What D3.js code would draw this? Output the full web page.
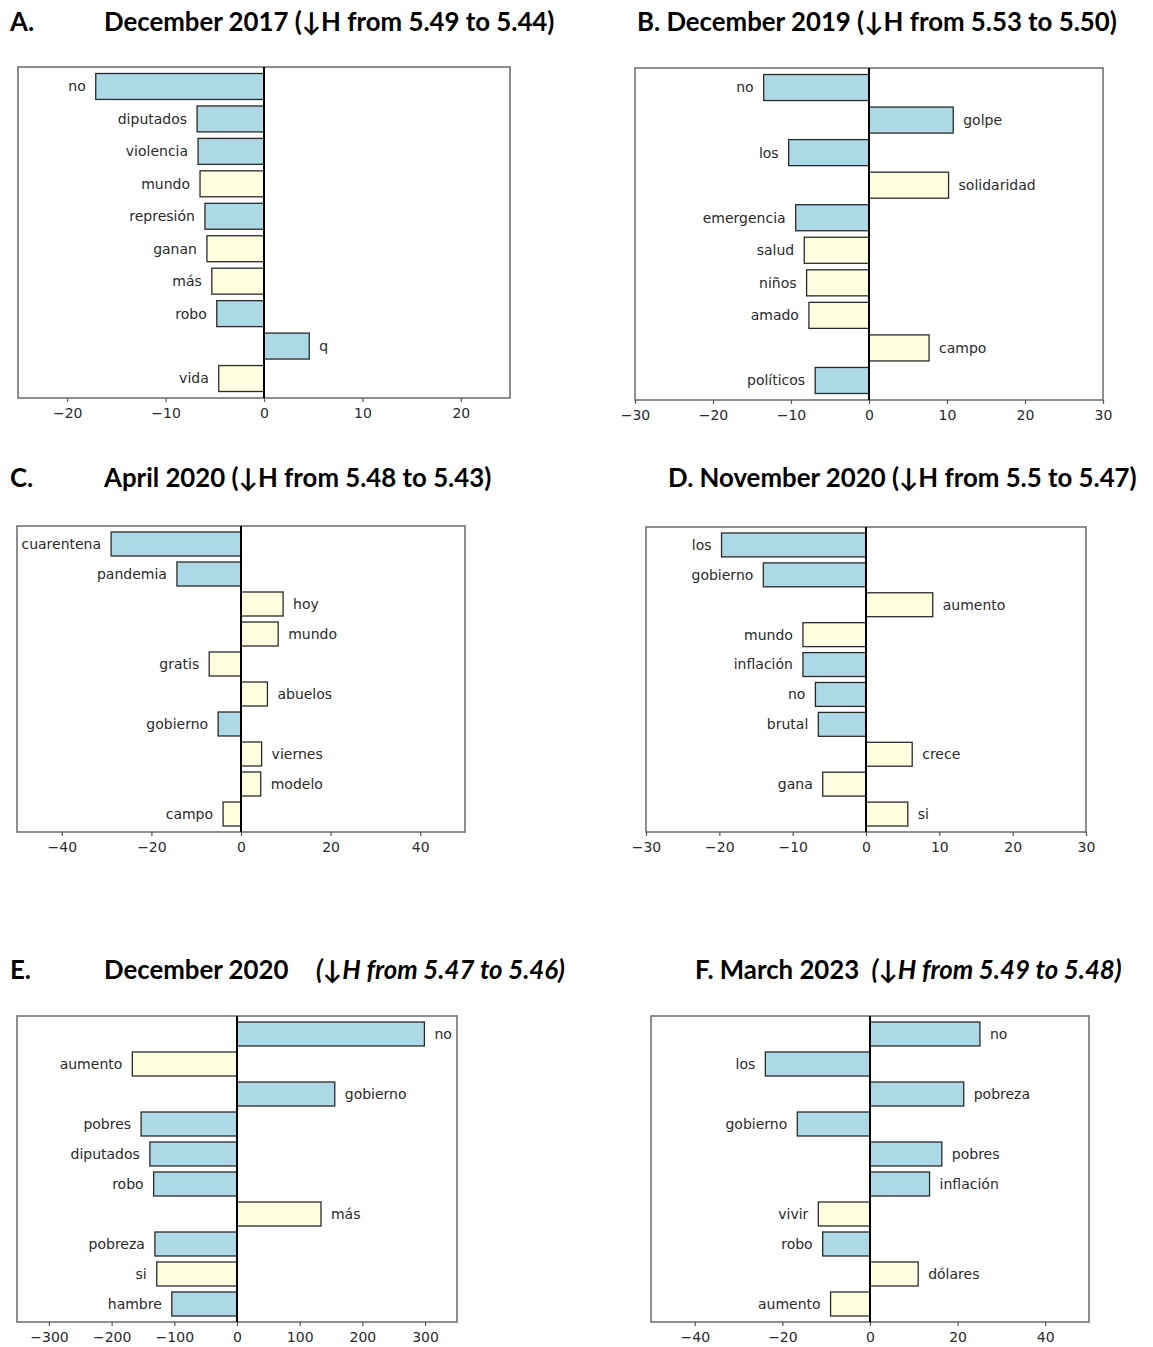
<!DOCTYPE html>
<html>
<head>
<meta charset="utf-8">
<script src="https://cdn.jsdelivr.net/npm/d3@7"></script>
<style>
  body { margin: 0; background: #fff; }
  svg { display: block; }
</style>
</head>
<body>
<svg id="chart" width="1153" height="1347"></svg>
<script>
// ---------- DATA ----------
const wordsA  = ["no","diputados","violencia","mundo","represión","ganan","más","robo","q","vida"];
const valuesA = [-17.1,-6.8,-6.7,-6.5,-6.0,-5.8,-5.3,-4.8,4.6,-4.6];
const groupsA = ["b","b","b","y","b","y","y","b","b","y"];
const ticksA  = [-20,-10,0,10,20];
const domainA = [-25,25];

const wordsB  = ["no","golpe","los","solidaridad","emergencia","salud","niños","amado","campo","políticos"];
const valuesB = [-13.5,10.8,-10.3,10.2,-9.4,-8.3,-8.0,-7.7,7.7,-6.9];
const groupsB = ["b","b","b","y","b","y","y","y","y","b"];
const ticksB  = [-30,-20,-10,0,10,20,30];
const domainB = [-30,30];

const wordsC  = ["cuarentena","pandemia","hoy","mundo","gratis","abuelos","gobierno","viernes","modelo","campo"];
const valuesC = [-29.0,-14.3,9.4,8.3,-7.1,5.9,-5.1,4.6,4.4,-4.0];
const groupsC = ["b","b","y","y","y","y","b","y","y","y"];
const ticksC  = [-40,-20,0,20,40];
const domainC = [-50,50];

const wordsD  = ["los","gobierno","aumento","mundo","inflación","no","brutal","crece","gana","si"];
const valuesD = [-19.7,-14.0,9.1,-8.6,-8.6,-6.9,-6.5,6.3,-5.9,5.7];
const groupsD = ["b","b","y","y","b","b","b","y","y","y"];
const ticksD  = [-30,-20,-10,0,10,20,30];
const domainD = [-30,30];

const wordsE  = ["no","aumento","gobierno","pobres","diputados","robo","más","pobreza","si","hambre"];
const valuesE = [299,-167,156,-153,-139,-133,134,-131,-128,-104];
const groupsE = ["b","y","b","b","b","b","y","b","y","b"];
const ticksE  = [-300,-200,-100,0,100,200,300];
const domainE = [-351,351];

const wordsF  = ["no","los","pobreza","gobierno","pobres","inflación","vivir","robo","dólares","aumento"];
const valuesF = [25.1,-23.9,21.4,-16.6,16.4,13.6,-11.8,-10.8,11.0,-9.0];
const groupsF = ["b","b","b","b","b","b","y","b","y","y"];
const ticksF  = [-40,-20,0,20,40];
const domainF = [-50,50];

const titleLetters = ["A.","B.","C.","D.","E.","F."];
const titleMain = ["December 2017","December 2019","April 2020","November 2020","December 2020","March 2023"];
const titleSub  = ["(↓H from 5.49 to 5.44)","(↓H from 5.53 to 5.50)","(↓H from 5.48 to 5.43)","(↓H from 5.5 to 5.47)","(↓H from 5.47 to 5.46)","(↓H from 5.49 to 5.48)"];

// ---------- LAYOUT ----------
const colorScale = d3.scaleOrdinal().domain(["b","y"]).range(["#add8e6","#ffffe0"]);

const panels = [
  {words: wordsA, values: valuesA, groups: groupsA, ticks: ticksA, domain: domainA, fr: [18,510,67,398]},
  {words: wordsB, values: valuesB, groups: groupsB, ticks: ticksB, domain: domainB, fr: [635,1103,68,400]},
  {words: wordsC, values: valuesC, groups: groupsC, ticks: ticksC, domain: domainC, fr: [17,465,526,832]},
  {words: wordsD, values: valuesD, groups: groupsD, ticks: ticksD, domain: domainD, fr: [646,1086,527,832]},
  {words: wordsE, values: valuesE, groups: groupsE, ticks: ticksE, domain: domainE, fr: [17,457,1016,1322]},
  {words: wordsF, values: valuesF, groups: groupsF, ticks: ticksF, domain: domainF, fr: [651,1089,1016,1322]}
];

const svg = d3.select("#chart");
const labelFont = "'DejaVu Sans', sans-serif";

panels.forEach((p) => {
  const [x0, x1, y0, y1] = p.fr;
  const x = d3.scaleLinear().domain(p.domain).range([x0, x1]);
  const y = d3.scaleLinear().domain([-0.6, p.words.length - 0.4]).range([y0, y1]);
  const g = svg.append("g");

  const data = p.words.map((w, i) => ({w, v: p.values[i], grp: p.groups[i], i}));

  // bars
  g.selectAll("rect.bar").data(data).enter().append("rect")
    .attr("class", "bar")
    .attr("x", d => Math.min(x(0), x(d.v)))
    .attr("width", d => Math.abs(x(d.v) - x(0)))
    .attr("y", d => y(d.i - 0.4))
    .attr("height", d => y(d.i + 0.4) - y(d.i - 0.4))
    .attr("fill", d => colorScale(d.grp))
    .attr("stroke", "#2a2a2a")
    .attr("stroke-width", 1.3);

  // bar labels
  g.selectAll("text.lbl").data(data).enter().append("text")
    .attr("class", "lbl")
    .attr("x", d => d.v < 0 ? x(d.v) - 10 : x(d.v) + 10)
    .attr("y", d => y(d.i))
    .attr("dy", "0.35em")
    .attr("text-anchor", d => d.v < 0 ? "end" : "start")
    .attr("font-family", labelFont)
    .attr("font-size", 14)
    .attr("fill", "#2a2a2a")
    .text(d => d.w);

  // frame
  g.append("rect")
    .attr("x", x0).attr("y", y0)
    .attr("width", x1 - x0).attr("height", y1 - y0)
    .attr("fill", "none")
    .attr("stroke", "#6a6a6a")
    .attr("stroke-width", 1.5);

  // zero line
  g.append("line")
    .attr("x1", x(0)).attr("x2", x(0))
    .attr("y1", y0).attr("y2", y1)
    .attr("stroke", "#000")
    .attr("stroke-width", 2);

  // x axis
  const axis = d3.axisBottom(x).tickValues(p.ticks).tickSize(4).tickSizeOuter(0).tickPadding(6);
  const ag = g.append("g").attr("transform", `translate(0,${y1})`).call(axis);
  ag.select(".domain").remove();
  ag.selectAll(".tick line").attr("stroke", "#555").attr("stroke-width", 1.2);
  ag.selectAll(".tick text")
    .attr("font-family", labelFont)
    .attr("font-size", 14)
    .attr("fill", "#2a2a2a");
});

// ---------- TITLES ----------
const titleFont = "Lato, 'Open Sans', sans-serif";
const titleSize = 25.8;
function txt(xp, yp, s, italic) {
  const t = svg.append("text").attr("x", xp).attr("y", yp)
    .attr("font-family", titleFont).attr("font-weight", 700).attr("font-size", titleSize)
    .text(s);
  if (italic) t.attr("font-style", "italic");
  return t;
}
// A
txt(10, 31, titleLetters[0]);
txt(104, 31, titleMain[0] + " " + titleSub[0]);
// B
txt(637, 31, titleLetters[1] + " " + titleMain[1] + " " + titleSub[1]);
// C
txt(10, 487, titleLetters[2]);
txt(104, 487, titleMain[2] + " " + titleSub[2]);
// D
txt(668, 487, titleLetters[3] + " " + titleMain[3] + " " + titleSub[3]);
// E
txt(10, 979, titleLetters[4]);
txt(104, 979, titleMain[4]);
txt(316, 979, titleSub[4], true);
// F
const tf = svg.append("text").attr("x", 695).attr("y", 979)
  .attr("font-family", titleFont).attr("font-weight", 700).attr("font-size", titleSize);
tf.append("tspan").text(titleLetters[5] + " " + titleMain[5] + " ");
tf.append("tspan").attr("font-style", "italic").attr("dx", 6).text(titleSub[5]);
</script>
</body>
</html>
